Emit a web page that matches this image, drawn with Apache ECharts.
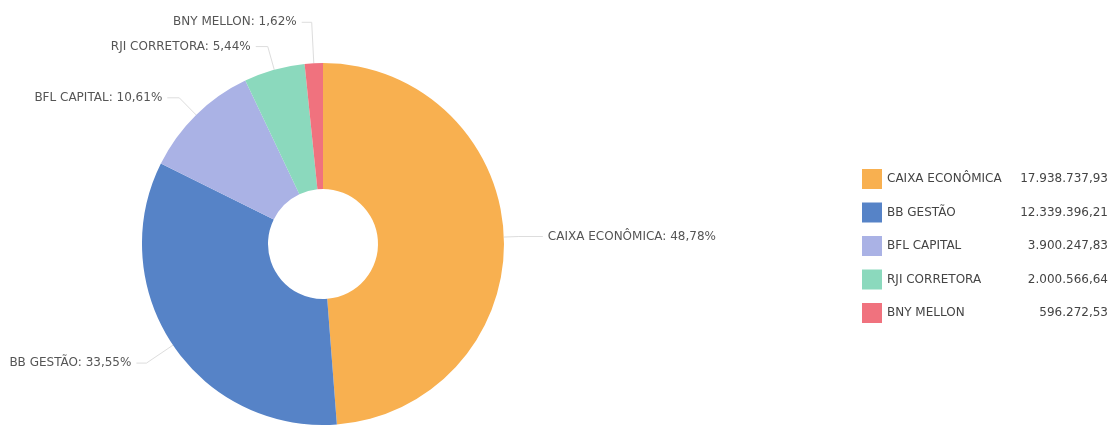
<!DOCTYPE html>
<html>
<head>
<meta charset="utf-8">
<script src="https://cdn.jsdelivr.net/npm/echarts@6/dist/echarts.min.js"></script>
<style>
html,body{margin:0;padding:0;background:#fff;}
#chart{width:1114px;height:427px;}
</style>
</head>
<body>
<div id="chart"></div>
<script>
const categories = ['CAIXA ECONÔMICA', 'BB GESTÃO', 'BFL CAPITAL', 'RJI CORRETORA', 'BNY MELLON'];
const values = [17938737.93, 12339396.21, 3900247.83, 2000566.64, 596272.53];

const colors = ['#f8b050', '#5683c7', '#aab2e5', '#8bd9bd', '#f0727e'];
const lineLen = [[15, 24], [32, 10], [24, 12], [24, 12], [41, 10]];

function fmtBR(v) {
  const parts = v.toFixed(2).split('.');
  const int = parts[0].replace(/\B(?=(\d{3})+(?!\d))/g, '.');
  return int + ',' + parts[1];
}
const valueByName = {};
categories.forEach((c, i) => { valueByName[c] = values[i]; });

const chart = echarts.init(document.getElementById('chart'), null, {renderer: 'canvas'});
chart.setOption({
  backgroundColor: '#ffffff',
  animation: false,
  color: colors,
  legend: {
    orient: 'vertical',
    left: 857,
    top: 164,
    itemWidth: 20,
    itemHeight: 20,
    itemGap: 13.5,
    icon: 'rect',
    data: categories,
    formatter: function (name) {
      return '{n|' + name + '}{v|' + fmtBR(valueByName[name]) + '}';
    },
    textStyle: {
      fontFamily: 'DejaVu Sans',
      fontSize: 12,
      color: '#444',
      rich: {
        n: {width: 129, fontFamily: 'DejaVu Sans', fontSize: 12, color: '#444'},
        v: {width: 92, align: 'right', fontFamily: 'DejaVu Sans', fontSize: 12, color: '#444'}
      }
    }
  },
  series: [{
    type: 'pie',
    center: [323, 244],
    radius: [55, 181],
    startAngle: 90,
    clockwise: true,
    avoidLabelOverlap: true,
    bleedMargin: 0,
    label: {
      show: true,
      width: 200,
      overflow: 'none',
      fontFamily: 'DejaVu Sans',
      fontSize: 12,
      color: '#555',
      formatter: function (p) {
        return p.name + ': ' + p.percent.toFixed(2).replace('.', ',') + '%';
      }
    },
    labelLine: {
      show: true,
      lineStyle: {color: '#ddd', width: 1}
    },
    data: categories.map((c, i) => ({
      name: c,
      value: values[i],
      labelLine: {length: lineLen[i][0], length2: lineLen[i][1]}
    }))
  }]
});
</script>
</body>
</html>
